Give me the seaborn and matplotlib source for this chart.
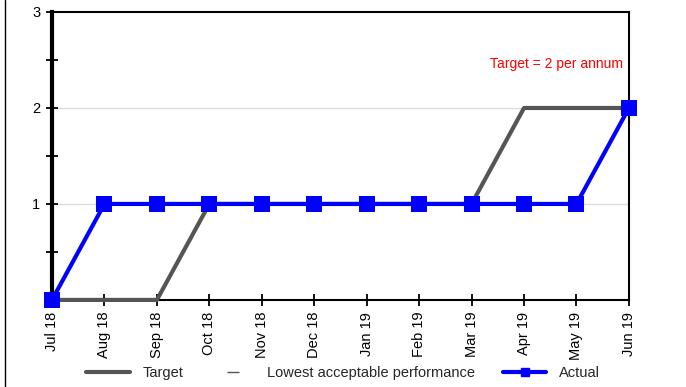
import pandas as pd
import matplotlib.pyplot as plt
import seaborn as sns
from matplotlib.lines import Line2D
from matplotlib.ticker import MultipleLocator

months = ['Jul 18', 'Aug 18', 'Sep 18', 'Oct 18', 'Nov 18', 'Dec 18',
          'Jan 19', 'Feb 19', 'Mar 19', 'Apr 19', 'May 19', 'Jun 19']
target = [0, 0, 0, 1, 1, 1, 1, 1, 1, 2, 2, 2]
actual = [0, 1, 1, 1, 1, 1, 1, 1, 1, 1, 1, 2]

df = pd.DataFrame({'pos': range(len(months)), 'Target': target, 'Actual': actual})

sns.set_style('white')
plt.rcParams['font.family'] = ['Liberation Sans', 'DejaVu Sans']

fig = plt.figure(figsize=(6.86, 3.87), dpi=100)
ax = fig.add_axes([0.0758, 0.225, 0.841, 0.744])

sns.lineplot(data=df, x='pos', y='Target', color='#555555', linewidth=3, ax=ax)
sns.lineplot(data=df, x='pos', y='Actual', color='#0000ff', linewidth=3,
             marker='s', markersize=11, markeredgewidth=0, ax=ax)
for ln in ax.lines:
    ln.set_clip_on(False)
    ln.set_zorder(3)

ax.set_xlim(0, len(months) - 1)
ax.set_ylim(0, 3)
ax.set_xticks(range(len(months)))
ax.set_xticklabels(months, rotation=90, fontsize=10.5)
ax.set_yticks([1, 2, 3])
ax.set_yticklabels(['1', '2', '3'], fontsize=10.5)
ax.yaxis.set_minor_locator(MultipleLocator(0.5))
ax.tick_params(axis='both', which='both', direction='inout', length=9, width=1.3,
               pad=4, bottom=True, left=True, colors='black')
ax.set_xlabel('')
ax.set_ylabel('')
ax.grid(False)
for yv in [1, 2]:
    ax.axhline(yv, color='#dddddd', linewidth=1, zorder=0)

for side in ['top', 'right', 'bottom']:
    ax.spines[side].set_color('black')
    ax.spines[side].set_linewidth(1.5)
ax.spines['left'].set_color('black')
ax.spines['left'].set_linewidth(3)

ax.text(0.99, 0.82, 'Target = 2 per annum', color='red', fontsize=10,
        ha='right', va='center', transform=ax.transAxes)

handles = [
    Line2D([], [], color='#555555', linewidth=3),
    Line2D([], [], color='#555555', linewidth=1, linestyle='none', marker='_', markersize=8),
    Line2D([], [], color='#0000ff', linewidth=3, marker='s', markersize=6),
]
fig.legend(handles, ['Target', 'Lowest acceptable performance', 'Actual'],
           loc='center', bbox_to_anchor=(0.5, 0.035), ncol=3, frameon=False,
           fontsize=10.5, handlelength=3.0, handletextpad=0.85, columnspacing=1.9)

fig.add_artist(Line2D([0.008, 0.008], [0, 1], color='black', linewidth=1,
                      transform=fig.transFigure))

fig.savefig('out.png', dpi=100)
